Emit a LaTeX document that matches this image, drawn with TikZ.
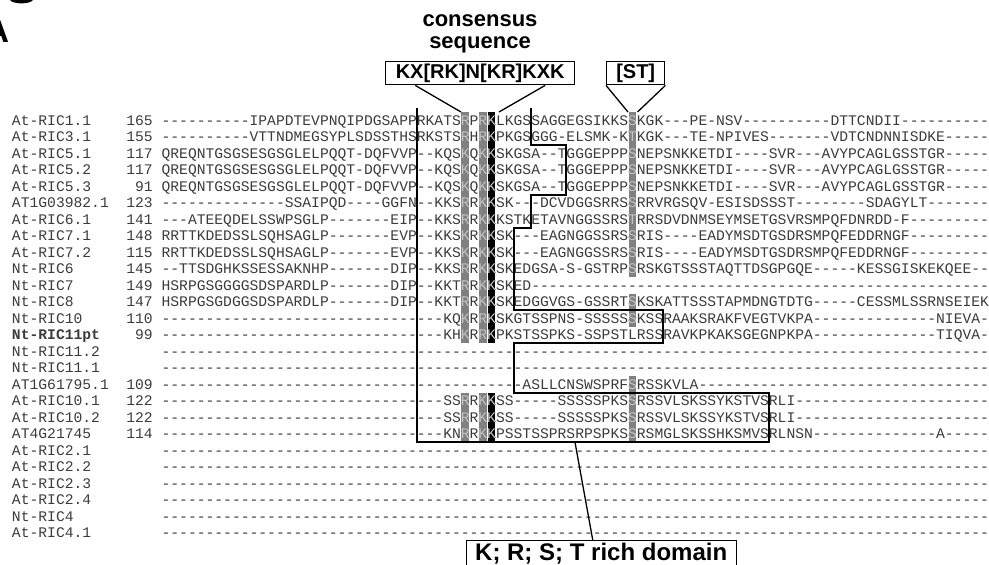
\documentclass[tikz,border=0pt]{standalone}
\usepackage{fontspec}
\setmainfont{Liberation Sans}
\setmonofont{Liberation Mono}
\usetikzlibrary{calc}
\definecolor{seqtxt}{RGB}{60,60,60}
\definecolor{hlgray}{RGB}{128,128,128}
\definecolor{hltxt}{RGB}{195,195,195}
\ExplSyntaxOn
\NewExpandableDocumentCommand\dsh{m}{\prg_replicate:nn{#1}{-}}
\ExplSyntaxOff
\newcommand\alnrow[4]{%
  \pgfmathsetmacro\yb{120.5+16.5*(#1-1)+4.8}%
  \node[rowname] (name#1) at (12,\yb) {#2};%
  \node[rownum] (num#1) at (152.8,\yb) {#3};%
  \node[seqrow] (seq#1) at (161.6,\yb) {#4};%
}
\newcommand\hlc[4]{%
  \pgfmathsetmacro\yc{120.5+16.5*(#1-1)}%
  \pgfmathsetmacro\xl{161.6+8.8*#2}%
  \fill[#4] (\xl+0.6,\yc-8.25) rectangle (\xl+8.2,\yc+8.25);%
  \node[seqrow,text=hltxt] at (\xl,\yc+4.8) {#3};%
}
\begin{document}
\begin{tikzpicture}[x=1pt,y=-1pt,
  mono/.style={inner sep=0,outer sep=0,font=\ttfamily\fontsize{14.67}{16}\selectfont,text=seqtxt},
  rowname/.style={mono,anchor=base west},
  rownum/.style={mono,anchor=base east},
  seqrow/.style={mono,anchor=base west},
  motifbox/.style={draw,line width=1.4pt,inner sep=0,minimum height=23,font=\bfseries\fontsize{20}{20}\selectfont},
  conn/.style={line width=1.3pt},
  domline/.style={line width=2pt,line join=miter},
  title/.style={inner sep=0,font=\bfseries\fontsize{22}{22}\selectfont}]
\useasboundingbox (0,0) rectangle (989,565);
\clip (0,0) rectangle (989,565);
\fill[white] (0,0) rectangle (989,565);
% panel letters (cropped)
\fill (10,0) .. controls (13,4.5) and (30,4.5) .. (33,0) -- cycle;
\node[anchor=base east,inner sep=0,font=\bfseries\fontsize{34}{34}\selectfont] (panelA) at (9.5,42) {A};
% title and motif boxes
\node[title] (cons1) at (480,21) {consensus};
\node[title] (cons2) at (480,45) {sequence};
\node[motifbox,minimum width=189,anchor=north west] (kx) at (385,61) {KX[RK]N[KR]KXK};
\node[motifbox,minimum width=58,anchor=north west] (st) at (606,61) {[ST]};
% alignment rows
\alnrow{1}{At-RIC1.1}{165}{\dsh{10}IPAPDTEVPNQIPDGSAPPRKATSRPRKLKGSSAGGEGSIKKSSKGK---PE-NSV\dsh{10}DTTCNDII\dsh{10}}
\alnrow{2}{At-RIC3.1}{155}{\dsh{10}VTTNDMEGSYPLSDSSTHSRKSTSRHRKPKGSGGG-ELSMK-KTKGK---TE-NPIVES\dsh{7}VDTCNDNNISDKE\dsh{5}}
\alnrow{3}{At-RIC5.1}{117}{QREQNTGSGSESGSGLELPQQT-DQFVVP--KQSKQKKSKGSA--TGGGEPPPSNEPSNKKETDI----SVR---AVYPCAGLGSSTGR\dsh{5}}
\alnrow{4}{At-RIC5.2}{117}{QREQNTGSGSESGSGLELPQQT-DQFVVP--KQSKQKKSKGSA--TGGGEPPPSNEPSNKKETDI----SVR---AVYPCAGLGSSTGR\dsh{5}}
\alnrow{5}{At-RIC5.3}{91}{QREQNTGSGSESGSGLELPQQT-DQFVVP--KQSKQKKSKGSA--TGGGEPPPSNEPSNKKETDI----SVR---AVYPCAGLGSSTGR\dsh{5}}
\alnrow{6}{AT1G03982.1}{123}{\dsh{14}SSAIPQD----GGFN--KKSRRKKSK---DCVDGGSRRSSRRVRGSQV-ESISDSSST\dsh{8}SDAGYLT\dsh{7}}
\alnrow{7}{At-RIC6.1}{141}{---ATEEQDELSSWPSGLP\dsh{7}EIP--KKSRRKKKSTKETAVNGGSSRSTRRSDVDNMSEYMSETGSVRSMPQFDNRDD-F\dsh{9}}
\alnrow{8}{At-RIC7.1}{148}{RRTTKDEDSSLSQHSAGLP\dsh{7}EVP--KKSKRKKSK---EAGNGGSSRSSRIS----EADYMSDTGSDRSMPQFEDDRNGF\dsh{9}}
\alnrow{9}{At-RIC7.2}{115}{RRTTKDEDSSLSQHSAGLP\dsh{7}EVP--KKSKRKKSK---EAGNGGSSRSSRIS----EADYMSDTGSDRSMPQFEDDRNGF\dsh{9}}
\alnrow{10}{Nt-RIC6}{145}{--TTSDGHKSSESSAKNHP\dsh{7}DIP--KKSRRKKSKEDGSA-S-GSTRPSRSKGTSSSTAQTTDSGPGQE\dsh{5}KESSGISKEKQEE--}
\alnrow{11}{Nt-RIC7}{149}{HSRPGSGGGGSDSPARDLP\dsh{7}DIP--KKTRRKKSKED\dsh{52}}
\alnrow{12}{Nt-RIC8}{147}{HSRPGSGDGGSDSPARDLP\dsh{7}DIP--KKTRRKKSKEDGGVGS-GSSRTSKSKATTSSSTAPMDNGTDTG\dsh{5}CESSMLSSRNSEIEKE}
\alnrow{13}{Nt-RIC10}{110}{\dsh{32}KQKRRKSKGTSSPNS-SSSSSSKSSRAAKSRAKFVEGTVKPA\dsh{14}NIEVA-}
\alnrow{14}{\textbf{Nt-RIC11pt}}{99}{\dsh{32}KHKRRKPKSTSSPKS-SSPSTLRSSRAVKPKAKSGEGNPKPA\dsh{14}TIQVA-}
\alnrow{15}{Nt-RIC11.2}{}{\dsh{94}}
\alnrow{16}{Nt-RIC11.1}{}{\dsh{94}}
\alnrow{17}{AT1G61795.1}{109}{\dsh{41}ASLLCNSWSPRFSRSSKVLA\dsh{33}}
\alnrow{18}{At-RIC10.1}{122}{\dsh{32}SSRRKKSS-----SSSSSPKSSRSSVLSKSSYKSTVSRLI\dsh{22}}
\alnrow{19}{At-RIC10.2}{122}{\dsh{32}SSRRKKSS-----SSSSSPKSSRSSVLSKSSYKSTVSRLI\dsh{22}}
\alnrow{20}{AT4G21745}{114}{\dsh{32}KNRRKKPSSTSSPRSRPSPKSSRSMGLSKSSHKSMVSRLNSN\dsh{14}A\dsh{5}}
\alnrow{21}{At-RIC2.1}{}{\dsh{94}}
\alnrow{22}{At-RIC2.2}{}{\dsh{94}}
\alnrow{23}{At-RIC2.3}{}{\dsh{94}}
\alnrow{24}{At-RIC2.4}{}{\dsh{94}}
\alnrow{25}{Nt-RIC4}{}{\dsh{94}}
\alnrow{26}{At-RIC4.1}{}{\dsh{94}}
% highlighted columns
\foreach \r/\a/\b/\c/\d in {1/R/R/K/S,2/R/R/K/T,3/K/K/K/S,4/K/K/K/S,5/K/K/K/S,6/R/K/K/S,7/R/K/K/T,8/K/K/K/S,9/K/K/K/S,10/R/K/K/S,12/R/K/K/S,13/K/R/K/S,18/R/K/K/S,19/R/K/K/S,20/R/K/K/S}{
  \hlc{\r}{34}{\a}{hlgray}\hlc{\r}{36}{\b}{hlgray}\hlc{\r}{37}{\c}{black}\hlc{\r}{53}{\d}{hlgray}}
\foreach \r/\a/\b/\c in {11/R/K/K,14/K/R/K}{
  \hlc{\r}{34}{\a}{hlgray}\hlc{\r}{36}{\b}{hlgray}\hlc{\r}{37}{\c}{black}}
\hlc{17}{53}{S}{hlgray}
% domain outline
\draw[domline] (161.6+8.8*42,108) |- (161.6+8.8*46,145.25) |- (161.6+8.8*42,194.75)
  |- (161.6+8.8*40,227.75) |- (161.6+8.8*57,310.25) |- (161.6+8.8*40,343.25)
  |- (161.6+8.8*69,392.75) |- (161.6+8.8*29,442.25) -- (161.6+8.8*29,108);
% connectors from motif boxes to highlighted columns
\coordinate (kxa) at (461,112);
\coordinate (kxb) at (499,112);
\coordinate (sta) at (628,112);
\coordinate (stb) at (637.5,112);
\draw[conn] ($(kx.south west)!0.159!(kx.south east)$) -- (kxa);
\draw[conn] ($(kx.south west)!0.841!(kx.south east)$) -- (kxb);
\draw[conn] (st.south west) -- (sta);
\draw[conn] (st.south east) -- (stb);
% domain label
\node[draw,line width=1.4pt,anchor=north west,minimum width=270,minimum height=40,inner sep=0] (dombox) at (466,540) {};
\node[anchor=base west,inner sep=0,font=\bfseries\fontsize{24}{24}\selectfont] (domtxt) at (475,560) {K; R; S; T rich domain};
\coordinate (dombot) at (575,442.25);
\draw[conn] (dombot) -- ($(dombox.north west)!0.467!(dombox.north east)$);
\end{tikzpicture}
\end{document}
